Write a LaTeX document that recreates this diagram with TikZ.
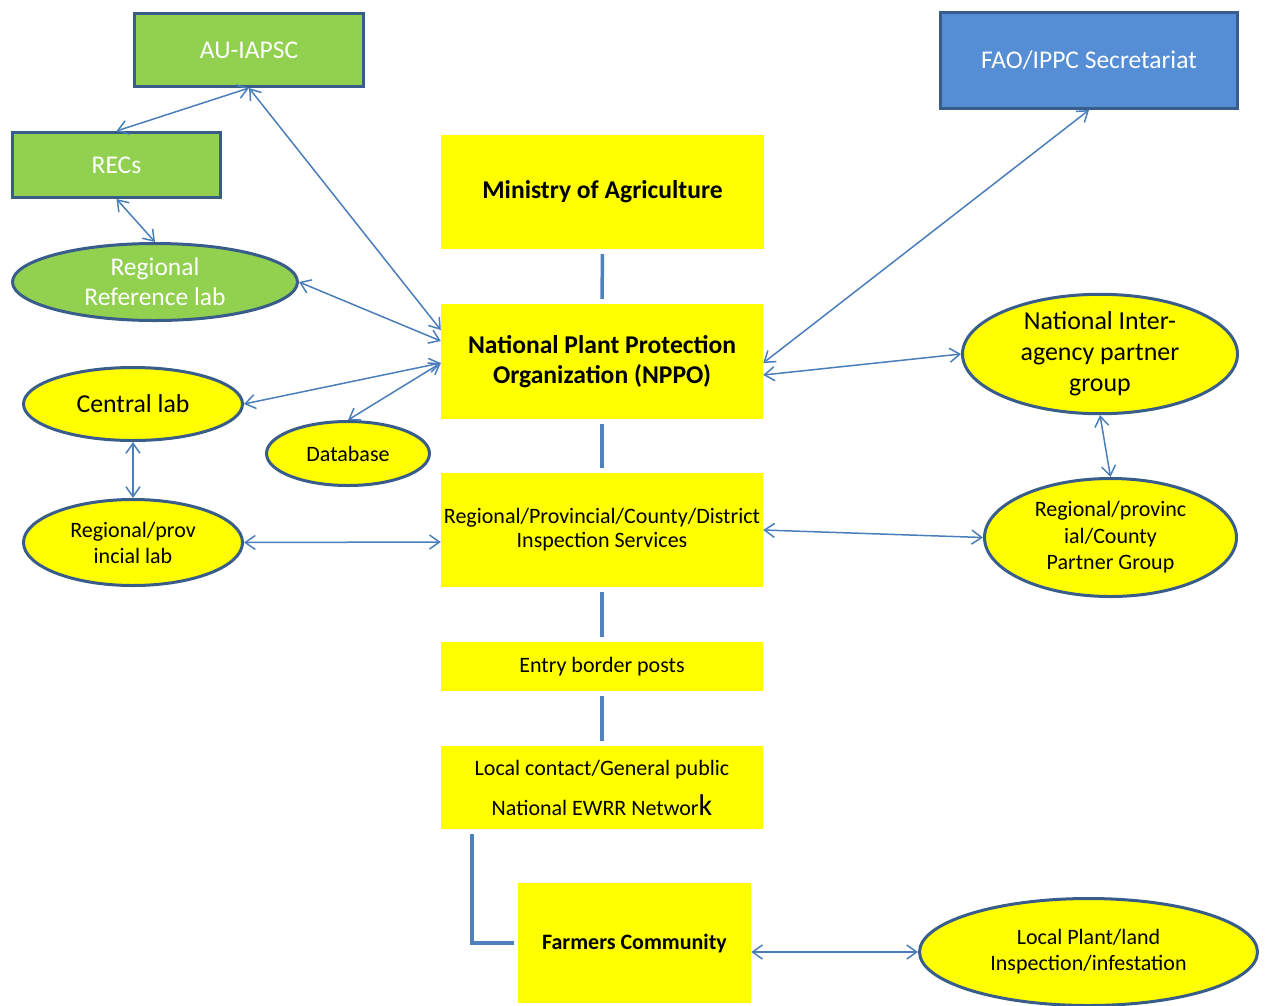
\documentclass[tikz,border=0pt]{standalone}
\usepackage{fontspec}
\setmainfont{Carlito}
\usetikzlibrary{shapes.geometric,arrows.meta}
\definecolor{gfill}{HTML}{92D050}
\definecolor{bfill}{HTML}{558ED5}
\definecolor{edge}{HTML}{385D8A}
\definecolor{arr}{HTML}{4A7EBB}
\definecolor{thk}{HTML}{4F81BD}
\definecolor{yel}{HTML}{FFFF00}
\newcommand{\fs}[2]{\fontsize{#1}{#2}\selectfont}
\tikzset{
  gbox/.style={draw=edge,line width=3pt,fill=gfill,text=white,inner sep=0pt,font=\fs{25.5}{30}},
  bbox/.style={draw=edge,line width=3pt,fill=bfill,text=white,inner sep=0pt,font=\fs{25.5}{30}},
  ybox/.style={fill=yel,inner sep=0pt,align=center},
  gell/.style={ellipse,draw=edge,line width=3pt,fill=gfill,text=white,inner sep=0pt,align=center,font=\fs{25.5}{30}},
  yell/.style={ellipse,draw=edge,line width=3pt,fill=yel,inner sep=0pt,align=center},
  link/.style={draw=arr,line width=1.5pt,{Straight Barb[length=10pt,width=14pt]}-{Straight Barb[length=10pt,width=14pt]}},
  thickline/.style={draw=thk,line width=3.5pt,shorten <=5pt,shorten >=5pt},
}
\begin{document}
\begin{tikzpicture}[x=1pt,y=-1pt]
\useasboundingbox (0,0) rectangle (1271,1005);
% green / blue boxes
\node[gbox,minimum width=229pt,minimum height=73pt] (au) at (249,50) {AU-IAPSC};
\node[gbox,minimum width=208pt,minimum height=65pt] (recs) at (116.5,165) {RECs};
\node[bbox,minimum width=297pt,minimum height=96pt] (fao) at (1089,60.5) {FAO/IPPC Secretariat};
\node[gell,minimum width=285pt,minimum height=77pt] (regref) at (155,282) {Regional\\Reference lab};
% yellow boxes
\node[ybox,minimum width=323pt,minimum height=114pt,font=\bfseries\fs{25.6}{30}] (min) at (602.5,192) {Ministry of Agriculture};
\node[ybox,minimum width=322pt,minimum height=115pt,font=\bfseries\fs{25.6}{30}] (nppo) at (602,361.5) {National Plant Protection\\Organization (NPPO)};
\node[ybox,minimum width=322pt,minimum height=114pt,font=\fs{22}{24}] (insp) at (602,530) {Regional/Provincial/County/District\\Inspection Services};
\node[ybox,minimum width=322pt,minimum height=49pt,font=\fs{22}{24}] (entry) at (602,666.5) {Entry border posts};
\node[ybox,minimum width=322pt,minimum height=83pt,font=\fs{22}{40}] (local) at (602,787.5) {Local contact/General public\\National EWRR Networ{\fs{30}{30}k}};
\node[ybox,minimum width=233pt,minimum height=120pt,font=\bfseries\fs{22}{24}] (farm) at (634.5,943) {Farmers Community};
% yellow ellipses
\node[yell,minimum width=219pt,minimum height=73pt,font=\fs{25.8}{30}] (central) at (133,404) {Central lab};
\node[yell,minimum width=163pt,minimum height=64pt,font=\fs{22}{24}] (db) at (348,453.5) {Database};
\node[yell,minimum width=219pt,minimum height=86pt,font=\fs{22}{26}] (reglab) at (133,542.5) {Regional/prov\\incial lab};
\node[yell,minimum width=275pt,minimum height=109pt,font=\fs{25.9}{31}] (natint) at (1100,354) {National Inter-\\agency partner\\group};
\node[yell,minimum width=252pt,minimum height=118pt,font=\fs{22}{26.5}] (regpart) at (1110.5,537.5) {Regional/provinc\\ial/County\\Partner Group};
\node[yell,minimum width=338pt,minimum height=107pt,font=\fs{22}{26}] (lplant) at (1088.5,952) {Local Plant/land\\Inspection/infestation};
% arrows
\draw[link] (au.south) -- (recs.north);
\draw[link] (au.south) -- ([yshift=31.5pt]nppo.west);
\draw[link] (recs.south) -- (regref.north);
\draw[link] (regref.east) -- ([yshift=20.5pt]nppo.west);
\draw[link] (central.east) -- ([yshift=-1.5pt]nppo.west);
\draw[link] (db.north) -- ([yshift=-1.5pt]nppo.west);
\draw[link] (central.south) -- (reglab.north);
\draw[link] (reglab.east) -- ([yshift=-12pt]insp.west);
\draw[link] (fao.south) -- ([yshift=-1.5pt]nppo.east);
\draw[link] ([yshift=-13.5pt]nppo.east) -- (natint.west);
\draw[link] (natint.south) -- (regpart.north);
\draw[link] (insp.east) -- (regpart.west);
\draw[link] ([yshift=-9pt]farm.east) -- (lplant.west);
% thick connectors
\draw[thickline] (min.south) -- (nppo.north);
\draw[thickline] (nppo.south) -- (insp.north);
\draw[thickline] (insp.south) -- (entry.north);
\draw[thickline] (entry.south) -- (local.north);
\draw[thickline,shorten <=0pt,shorten >=0pt] ([xshift=31pt,yshift=-5pt]local.south west) |- ([xshift=-4pt]farm.west);
\end{tikzpicture}
\end{document}
